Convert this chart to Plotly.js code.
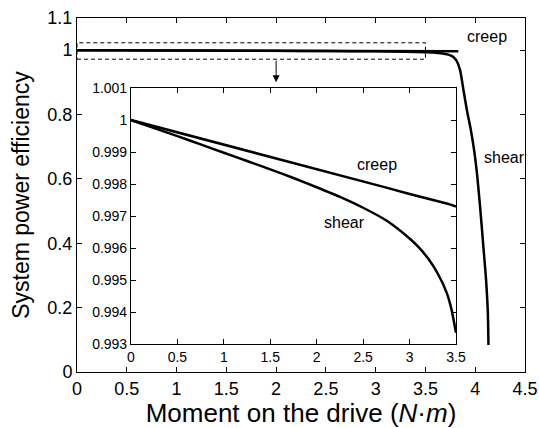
<!DOCTYPE html>
<html>
<head>
<meta charset="utf-8">
<script src="https://cdn.plot.ly/plotly-3.0.1.min.js"></script>
<style>html,body{margin:0;padding:0;background:#fff}#chart{width:539px;height:428px}</style>
</head>
<body>
<div id="chart"></div>
<script>
// Main plot data
var mainCreepX = [0, 0.5, 1, 1.5, 2, 2.5, 3, 3.5, 3.83];
var mainCreepY = [1.0, 0.9996, 0.9992, 0.9988, 0.9985, 0.9981, 0.9977, 0.9973, 0.9970];
var mainShearX = [0, 0.5, 1, 1.5, 2, 2.5, 3, 3.3, 3.5, 3.6, 3.7, 3.75, 3.78, 3.815, 3.848, 3.881, 3.916, 3.956, 3.989, 4.02, 4.049, 4.082, 4.109, 4.127, 4.133];
var mainShearY = [1.0, 0.9995, 0.9990, 0.9985, 0.9979, 0.9973, 0.9963, 0.9952, 0.9934, 0.992, 0.988, 0.984, 0.979, 0.966, 0.938, 0.878, 0.814, 0.752, 0.689, 0.61, 0.513, 0.389, 0.286, 0.182, 0.084];

// Inset data
var insetX = [0, 0.25, 0.5, 0.75, 1.0, 1.25, 1.5, 1.75, 2.0, 2.25, 2.5, 2.75, 3.0, 3.1, 3.2, 3.3, 3.4, 3.45, 3.5];
var insetCreepY = [1.0000, 0.99981, 0.99962, 0.99942, 0.99923, 0.99904, 0.99885, 0.99865, 0.99846, 0.99827, 0.99808, 0.99789, 0.99769, 0.99762, 0.99754, 0.99746, 0.99739, 0.99735, 0.99730];
var insetShearY = [1.0000, 0.99975, 0.99950, 0.99924, 0.99898, 0.99872, 0.99846, 0.99819, 0.99790, 0.99760, 0.99726, 0.99686, 0.99630, 0.99602, 0.99567, 0.99522, 0.99460, 0.99410, 0.99335];

// Ticks
var mainXTicks = [0, 0.5, 1, 1.5, 2, 2.5, 3, 3.5, 4, 4.5];
var mainXLabels = ["0", "0.5", "1", "1.5", "2", "2.5", "3", "3.5", "4", "4.5"];
var mainYTicks = [0, 0.2, 0.4, 0.6, 0.8, 1, 1.1];
var mainYLabels = ["0", "0.2", "0.4", "0.6", "0.8", "1", "1.1"];
var insetXTicks = [0, 0.5, 1, 1.5, 2, 2.5, 3, 3.5];
var insetXLabels = ["0", "0.5", "1", "1.5", "2", "2.5", "3", "3.5"];
var insetYTicks = [0.993, 0.994, 0.995, 0.996, 0.997, 0.998, 0.999, 1, 1.001];
var insetYLabels = ["0.993", "0.994", "0.995", "0.996", "0.997", "0.998", "0.999", "1", "1.001"];

var FONT = "Liberation Sans, Arial, Helvetica, sans-serif";
var lineStyle = {color: "black", width: 2.5};

var traces = [
  {x: mainCreepX, y: mainCreepY, mode: "lines", line: lineStyle, xaxis: "x", yaxis: "y", hoverinfo: "skip"},
  {x: mainShearX, y: mainShearY, mode: "lines", line: {color: "black", width: 2.5, shape: "spline", smoothing: 0.6}, xaxis: "x", yaxis: "y", hoverinfo: "skip"},
  {x: insetX, y: insetCreepY, mode: "lines", line: lineStyle, xaxis: "x2", yaxis: "y2", hoverinfo: "skip"},
  {x: insetX, y: insetShearY, mode: "lines", line: {color: "black", width: 2.5, shape: "spline", smoothing: 0.6}, xaxis: "x2", yaxis: "y2", hoverinfo: "skip"}
];

function axisBase(extra) {
  var a = {
    showline: true, linecolor: "black", linewidth: 1, mirror: "ticks",
    ticks: "inside", ticklen: 5, tickcolor: "black", tickwidth: 1,
    showgrid: false, zeroline: false, tickmode: "array",
    fixedrange: true
  };
  for (var k in extra) a[k] = extra[k];
  return a;
}

var layout = {
  width: 539, height: 428,
  margin: {l: 77, r: 14, t: 18, b: 56},
  paper_bgcolor: "white", plot_bgcolor: "white",
  showlegend: false,
  font: {family: FONT, color: "black"},
  xaxis: axisBase({
    domain: [0, 1], range: [0, 4.5], anchor: "y",
    tickvals: mainXTicks, ticktext: mainXLabels,
    tickfont: {size: 18, family: FONT},
    title: {text: "Moment on the drive (<i>N</i>·<i>m</i>)", font: {size: 26, family: FONT}, standoff: 4}
  }),
  yaxis: axisBase({
    domain: [0, 1], range: [0, 1.1], anchor: "x",
    tickvals: mainYTicks, ticktext: mainYLabels,
    tickfont: {size: 18, family: FONT},
    title: {text: "System power efficiency", font: {size: 23, family: FONT}, standoff: 11}
  }),
  xaxis2: axisBase({
    domain: [0.1205, 0.846], range: [0, 3.5], anchor: "y2",
    tickvals: insetXTicks, ticktext: insetXLabels,
    tickfont: {size: 14, family: FONT}
  }),
  yaxis2: axisBase({
    domain: [0.079, 0.802], range: [0.993, 1.001], anchor: "x2",
    tickvals: insetYTicks, ticktext: insetYLabels,
    tickfont: {size: 14, family: FONT}
  }),
  shapes: [
    {type: "rect", xref: "x", yref: "y", x0: 0, x1: 3.5, y0: 0.972, y1: 1.023,
     line: {color: "black", width: 1, dash: "4px,3px"}, fillcolor: "rgba(0,0,0,0)", layer: "above"}
  ],
  annotations: [
    {xref: "x", yref: "y", x: 2, y: 0.9, axref: "x", ayref: "y", ax: 2, ay: 0.972,
     showarrow: true, arrowhead: 2, arrowsize: 1.4, arrowwidth: 1, arrowcolor: "black", text: ""},
    {xref: "x", yref: "y", x: 4.12, y: 1.043, text: "creep", showarrow: false, font: {size: 16, family: FONT}},
    {xref: "x", yref: "y", x: 4.29, y: 0.668, text: "shear", showarrow: false, font: {size: 16, family: FONT}},
    {xref: "x2", yref: "y2", x: 2.65, y: 0.99862, text: "creep", showarrow: false, font: {size: 16, family: FONT}},
    {xref: "x2", yref: "y2", x: 2.30, y: 0.99681, text: "shear", showarrow: false, font: {size: 16, family: FONT}}
  ]
};

Plotly.newPlot("chart", traces, layout, {displayModeBar: false, staticPlot: true});
</script>
</body>
</html>
